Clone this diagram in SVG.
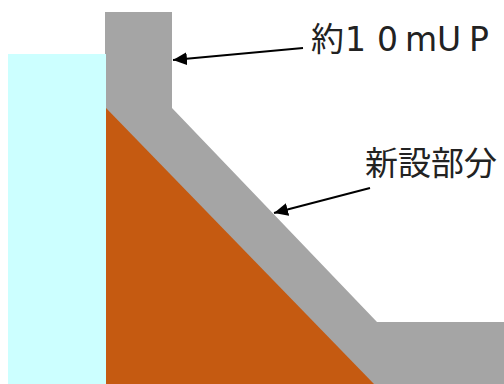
<svg xmlns="http://www.w3.org/2000/svg" width="504" height="384" viewBox="0 0 504 384">
<style>
.cjk{font-family:"Noto Sans CJK JP",sans-serif;font-size:33px;fill:#222}
.lat{font-family:"DejaVu Sans",sans-serif;font-size:33px;fill:#222}
.ar{stroke:#000;stroke-width:2;fill:none;marker-end:url(#ah)}
</style>
<defs><marker id="ah" markerUnits="userSpaceOnUse" markerWidth="15" markerHeight="13" refX="14" refY="6.5" orient="auto"><path d="M0 0L14 6.5L0 13z" fill="#000"/></marker></defs>
<g id="water"><rect x="8" y="54" width="98" height="330" fill="#ccffff"/></g>
<g id="new-part"><path d="M105 12H172V108L377 322H504V384H106V54H105z" fill="#a5a5a5"/></g>
<g id="embankment"><path d="M106 108L374 384H106z" fill="#c55a11"/></g>
<g id="connectors">
<line class="ar" x1="303" y1="48" x2="173" y2="60"/>
<line class="ar" x1="370" y1="188" x2="274" y2="213"/>
</g>
<g id="label-up"><text class="cjk" x="311" y="51">約</text><text class="lat" x="345 377 405 437 469" y="51">10mUP</text></g>
<g id="label-new"><text class="cjk" x="365" y="175">新設部分</text></g>
</svg>
